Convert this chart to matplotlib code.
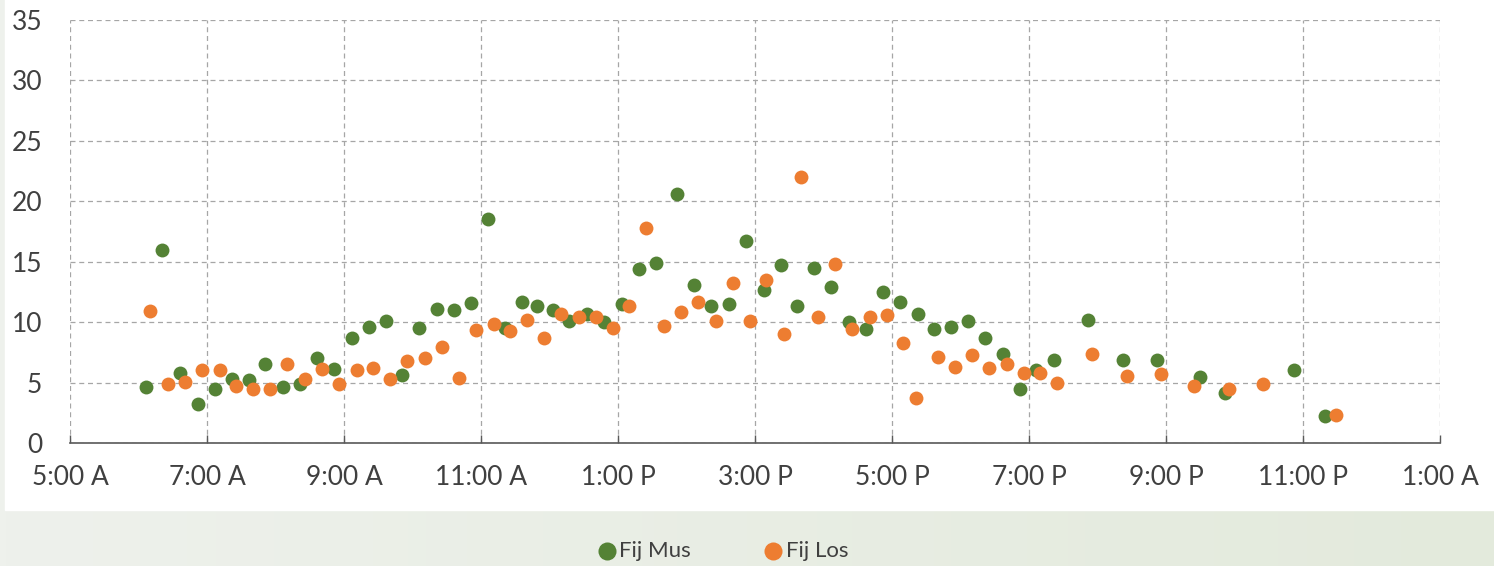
import numpy as np
import matplotlib
matplotlib.use('Agg')
from matplotlib import pyplot as plt
from matplotlib.patches import Rectangle
from matplotlib.colors import LinearSegmentedColormap

# hours of day (decimal, 25 = 1:00 AM next day)
mus_hours = [6.11, 6.34, 6.61, 6.87, 7.12, 7.36, 7.61, 7.85, 8.11, 8.36, 8.61, 8.85,
             9.12, 9.36, 9.61, 9.85, 10.09, 10.36, 10.61, 10.85, 11.10, 11.35, 11.60, 11.82,
             12.05, 12.28, 12.55, 12.80, 13.06, 13.31, 13.55, 13.86, 14.11, 14.36, 14.62, 14.87,
             15.13, 15.38, 15.61, 15.86, 16.11, 16.37, 16.62, 16.87, 17.12, 17.38, 17.61, 17.86,
             18.11, 18.36, 18.62, 18.87, 19.10, 19.36, 19.86, 20.37, 20.87, 21.50, 21.86, 22.87, 23.32]
mus_vals = [4.6, 16.0, 5.8, 3.2, 4.5, 5.3, 5.2, 6.55, 4.6, 4.9, 7.05, 6.1,
            8.7, 9.6, 10.1, 5.6, 9.5, 11.1, 11.0, 11.6, 18.5, 9.5, 11.7, 11.3,
            11.0, 10.1, 10.7, 10.0, 11.5, 14.4, 14.9, 20.6, 13.1, 11.3, 11.5, 16.7,
            12.7, 14.7, 11.3, 14.5, 12.9, 10.0, 9.45, 12.5, 11.7, 10.7, 9.4, 9.6,
            10.1, 8.7, 7.4, 4.5, 6.05, 6.9, 10.2, 6.9, 6.9, 5.5, 4.1, 6.05, 2.24]

los_hours = [6.17, 6.43, 6.68, 6.93, 7.19, 7.42, 7.67, 7.92, 8.17, 8.43, 8.68, 8.93,
             9.19, 9.42, 9.67, 9.92, 10.18, 10.43, 10.68, 10.93, 11.19, 11.42, 11.67, 11.92,
             12.17, 12.43, 12.68, 12.93, 13.16, 13.41, 13.67, 13.92, 14.17, 14.43, 14.68, 14.93,
             15.16, 15.42, 15.67, 15.92, 16.17, 16.42, 16.68, 16.93, 17.16, 17.35, 17.67, 17.92,
             18.17, 18.42, 18.68, 18.93, 19.16, 19.41, 19.92, 20.43, 20.93, 21.41, 21.92, 22.42, 23.48]
los_vals = [10.9, 4.9, 5.05, 6.05, 6.05, 4.7, 4.5, 4.5, 6.55, 5.3, 6.1, 4.9,
            6.05, 6.2, 5.3, 6.8, 7.05, 7.95, 5.4, 9.35, 9.85, 9.3, 10.2, 8.7,
            10.7, 10.4, 10.45, 9.5, 11.35, 17.8, 9.7, 10.85, 11.7, 10.1, 13.2, 10.1,
            13.5, 9.0, 22.0, 10.4, 14.85, 9.45, 10.45, 10.6, 8.3, 3.75, 7.15, 6.3,
            7.3, 6.2, 6.55, 5.8, 5.8, 4.95, 7.4, 5.55, 5.7, 4.7, 4.5, 4.9, 2.3]

tick_hours = [5, 7, 9, 11, 13, 15, 17, 19, 21, 23, 25]
tick_labels = ['5:00 A', '7:00 A', '9:00 A', '11:00 A', '1:00 P', '3:00 P',
               '5:00 P', '7:00 P', '9:00 P', '11:00 P', '1:00 A']

GREEN = '#548235'
ORANGE = '#ED7D31'
TXT = '#404040'

plt.rcParams['font.family'] = ['Lato', 'DejaVu Sans']

W, H = 1494, 566
fig = plt.figure(figsize=(W / 100, H / 100), dpi=100)

# light green gradient background + white chart panel
bg = fig.add_axes([0, 0, 1, 1], zorder=-10)
grad = np.linspace(0, 1, 256)[None, :]
cm = LinearSegmentedColormap.from_list('bg', ['#eef1ec', '#e3eadc'])
bg.imshow(grad, aspect='auto', cmap=cm, extent=[0, 1, 0, 1])
bg.add_patch(Rectangle((5 / W, 1 - 510 / H), 1, 1, color='white'))
bg.set_xlim(0, 1)
bg.set_ylim(0, 1)
bg.axis('off')

ax = fig.add_axes([70 / W, 1 - 443 / H, (1440 - 70) / W, (443 - 20) / H])
ax.patch.set_alpha(0)

ax.scatter(mus_hours, mus_vals, s=100, color=GREEN, label='Fij Mus', zorder=3, linewidths=0)
ax.scatter(los_hours, los_vals, s=100, color=ORANGE, label='Fij Los', zorder=4, linewidths=0)

ax.set_xlim(5, 25)
ax.set_ylim(0, 35)
ax.set_xticks(tick_hours)
ax.set_xticklabels(tick_labels)
ax.set_yticks(range(0, 36, 5))

ax.grid(True, color='#a6a6a6', linestyle=(0, (4, 3)), linewidth=0.9)
ax.set_axisbelow(True)
for s in ['top', 'right', 'left']:
    ax.spines[s].set_visible(False)
ax.spines['bottom'].set_color('#595959')
ax.spines['bottom'].set_linewidth(1.2)

ax.tick_params(axis='x', direction='in', length=6, width=1, color='#595959',
               labelsize=19, labelcolor=TXT, pad=16)
ax.tick_params(axis='y', length=0, labelsize=19, labelcolor=TXT, pad=20)

fig.legend(loc='center', bbox_to_anchor=(722 / W, 1 - 551 / H), ncol=2, frameon=False,
           fontsize=16, labelcolor=TXT, handletextpad=0.05, columnspacing=3.2,
           markerscale=1.3, handlelength=1.0)

fig.savefig('out.png', dpi=100)
